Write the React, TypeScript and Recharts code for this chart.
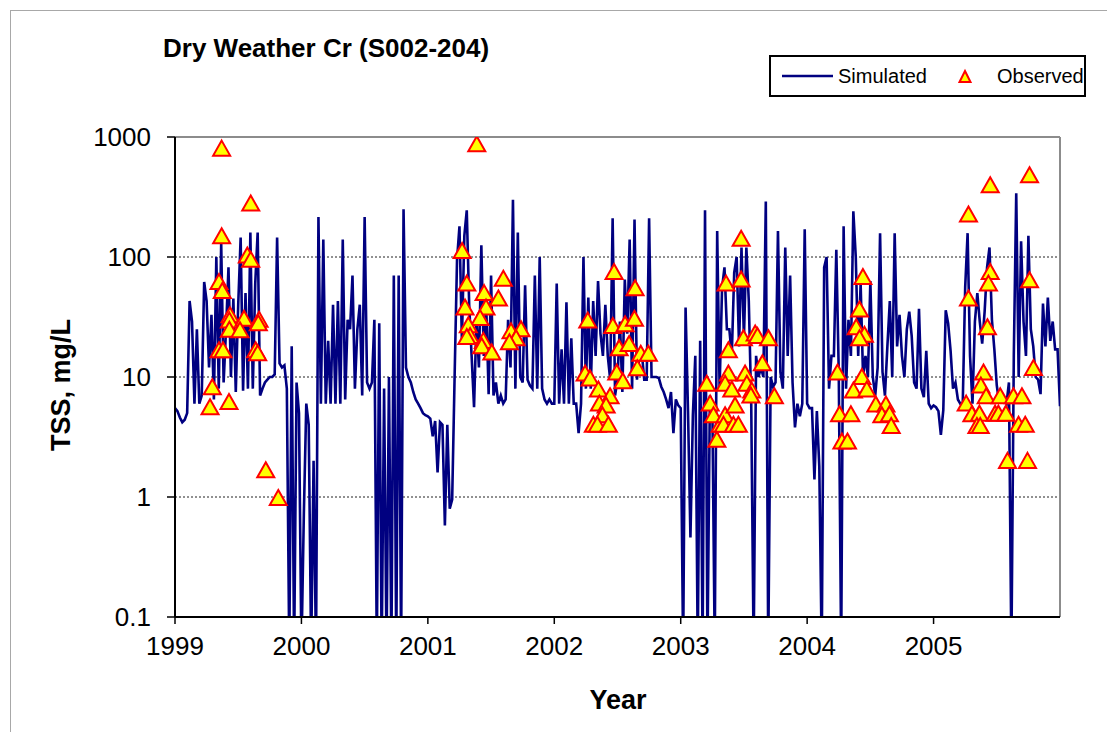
import {
  ComposedChart, Line, Scatter, XAxis, YAxis,
  CartesianGrid, ReferenceLine, Legend,
} from 'recharts'

const FONT = '"Liberation Sans", Arial, Helvetica, sans-serif'

const YEARS = [1999, 2000, 2001, 2002, 2003, 2004, 2005]
const X_TICKS = [1999, 2000, 2001, 2002, 2003, 2004, 2005]
const Y_TICKS = [0.1, 1, 10, 100, 1000]

// simulated TSS (mg/L), one reading per week; 0.05 = below the 0.1 floor
const sim1999 = [5.5, 5.2, 4.6, 4.2, 4.4, 5.0, 43, 29, 6, 25, 6, 7, 62, 43, 12, 33, 6.5, 100, 8, 130, 9, 25, 82, 10, 45, 7.5, 40, 145, 7.7, 50, 8, 160, 8, 60, 160, 7, 8, 9, 9.5, 10, 10, 10.5, 145, 13, 12, 12.5, 8, 0.05, 18, 0.05, 9, 5]
const sim2000 = [0.05, 0.73, 6, 4, 0.05, 2, 0.05, 215, 6, 140, 6, 20, 6, 40, 6, 43, 6, 140, 6.5, 30, 25, 70, 8, 25, 40, 7, 215, 9, 8, 9, 30, 0.05, 28, 0.05, 8, 0.05, 10, 0.05, 70, 0.05, 70, 0.05, 250, 12, 10, 9, 7.5, 6.5, 6, 5.5, 5, 4.8]
const sim2001 = [4.7, 4.5, 3.2, 4.3, 1.6, 4.2, 4, 0.58, 4, 0.8, 0.95, 10, 95, 180, 20, 150, 245, 40, 15, 5.6, 30, 12, 125, 15, 40, 7.2, 70, 7, 9, 6, 7, 6, 6.5, 30, 12, 300, 8, 160, 10, 9, 58, 9.5, 8.5, 8, 70, 8, 100, 8, 6.5, 6, 6.5, 6]
const sim2002 = [6, 60, 6, 17, 6, 42, 6, 21, 6, 6, 3.4, 6, 100, 8, 46, 8, 43, 15, 63, 23, 15, 40, 15, 9.5, 210, 7, 9.5, 29, 7.5, 65, 23, 140, 8, 205, 9.5, 15, 16, 9.5, 9.5, 210, 10, 10, 10, 9.8, 8.3, 7.5, 6.5, 5.5, 7.5, 3.4, 6.5, 5.8]
const sim2003 = [5.5, 0.05, 38, 5.2, 0.46, 4.8, 15, 0.05, 20, 0.05, 245, 0.05, 7, 6, 0.05, 165, 8, 55, 82, 25, 25, 15, 74, 100, 18, 120, 21, 120, 43, 6, 0.05, 15, 10, 12, 10, 290, 0.05, 10, 8.3, 9, 165, 11, 8, 120, 15, 70, 9, 3.8, 6, 4.7, 6, 170]
const sim2004 = [6, 5.5, 5.5, 1.4, 5.2, 1.8, 0.05, 82, 100, 8, 15, 15, 115, 11, 0.05, 180, 8, 30, 15, 240, 100, 15, 60, 10, 15, 10, 63, 10, 7, 12, 158, 11, 7, 18, 43, 10, 158, 18, 33, 15, 10, 25, 35, 22, 9, 8, 37, 8, 6.8, 16.5, 6, 5.5]
const sim2005 = [5.8, 5.6, 5.2, 3.3, 5.3, 36, 28, 16.5, 8, 9, 6.5, 6, 6, 56, 158, 15, 6, 29, 50, 29, 19, 35, 82, 120, 30, 17, 8.5, 6, 7, 6.5, 6, 9, 0.05, 15, 340, 10, 135, 29, 15, 150, 25, 18, 10, 9.5, 7.2, 41, 18, 46, 20, 29, 17, 17, 5.7]

// observed grab samples: decimal year / TSS mg/L
const obsYear = [
  1999.369, 1999.599, 1999.369, 1999.572, 1999.599, 1999.348, 1999.374, 1999.435, 1999.430, 1999.546,
  1999.665, 1999.430, 1999.514, 1999.659, 1999.348, 1999.380, 1999.638, 1999.654, 1999.295, 1999.277,
  1999.427, 1999.718, 1999.817,
  2001.387, 2001.271, 2001.308, 2001.294, 2001.445, 2001.597, 2001.558, 2001.460, 2001.413, 2001.320,
  2001.334, 2001.308, 2001.439, 2001.426, 2001.506, 2001.658, 2001.737, 2001.698, 2001.645,
  2002.473, 2002.639, 2002.265, 2002.463, 2002.560, 2002.634, 2002.513, 2002.592, 2002.684, 2002.744,
  2002.244, 2002.283, 2002.494, 2002.657, 2002.542, 2002.349, 2002.441, 2002.357, 2002.410, 2002.381,
  2002.309, 2002.341, 2002.428,
  2003.206, 2003.233, 2003.259, 2003.286, 2003.312, 2003.359, 2003.478, 2003.377, 2003.377, 2003.351,
  2003.404, 2003.351, 2003.430, 2003.338, 2003.417, 2003.478, 2003.496, 2003.589, 2003.607, 2003.694,
  2003.646, 2003.509, 2003.523, 2003.562, 2003.555, 2003.456, 2003.741,
  2004.441, 2004.414, 2004.388, 2004.453, 2004.414, 2004.240, 2004.433, 2004.366, 2004.472, 2004.256,
  2004.346, 2004.275, 2004.319, 2004.543, 2004.623, 2004.591, 2004.651, 2004.665,
  2005.759, 2005.448, 2005.276, 2005.448, 2005.434, 2005.759, 2005.276, 2005.426, 2005.790, 2005.395,
  2005.374, 2005.416, 2005.527, 2005.632, 2005.699, 2005.258, 2005.303, 2005.363, 2005.487, 2005.513,
  2005.572, 2005.343, 2005.369, 2005.672, 2005.725, 2005.585, 2005.743,
]
const obsTss = [
  800, 279, 149, 103, 95, 62, 52, 32.7, 29.5, 30.6,
  30, 24.8, 24.5, 28, 16.7, 16.7, 16.7, 15.8, 8.2, 5.6,
  6.2, 1.67, 0.98,
  869, 112, 60, 38, 50, 66, 45, 38, 31, 27,
  22, 21.5, 20, 18, 16, 24, 25, 21, 19.5,
  75, 55, 29.5, 26.6, 27.5, 30.6, 17.4, 18.8, 15.6, 15.6,
  10.7, 9.7, 10.9, 11.8, 9.2, 7.85, 6.9, 6.0, 5.8, 4.8,
  4.0, 4.0, 4.0,
  8.8, 6.0, 4.8, 3.0, 4.0, 60, 142, 16.7, 10.7, 8.8,
  7.85, 4.8, 5.8, 4.0, 4.0, 65, 21, 23, 22, 21,
  13, 10.7, 8.8, 7.7, 7.0, 4.0, 6.9,
  68, 36.5, 26, 22.5, 21, 10.9, 10, 7.7, 7.85, 4.9,
  4.9, 2.9, 2.9, 5.9, 5.9, 4.8, 4.9, 3.9,
  479, 396, 226, 75, 60, 64, 45, 26, 11.9, 10.9,
  8.5, 6.9, 6.9, 6.9, 6.9, 6.0, 4.9, 4.95, 4.95, 4.95,
  4.95, 3.9, 3.9, 4.0, 4.0, 2.0, 2.0,
]

const simByYear = [sim1999, sim2000, sim2001, sim2002, sim2003, sim2004, sim2005]
const simulated = simByYear.flatMap((vals, i) =>
  vals.map((v, w) => ({ t: YEARS[i] + w / 52, v })),
)
const observed = obsYear.map((t, i) => ({ t, v: obsTss[i] }))

const NAVY = '#000080'

function Triangle({ cx, cy }: any) {
  if (cx == null || cy == null) return null
  return (
    <path
      d={`M${cx},${cy - 8} L${cx + 8.5},${cy + 7} L${cx - 8.5},${cy + 7} Z`}
      fill="#ffff00"
      stroke="#ff0000"
      strokeWidth={2}
    />
  )
}

function LegendBox() {
  return (
    <svg width={318} height={43} style={{ display: 'block' }}>
      <rect x={1} y={1} width={315} height={40} fill="#fff" stroke="#000" strokeWidth={2} />
      <line x1={13} y1={21} x2={64} y2={21} stroke={NAVY} strokeWidth={2.5} />
      <text x={69} y={28} fontSize={20} fontFamily={FONT} fill="#000">Simulated</text>
      <path d="M196,16 L201.5,27 L190.5,27 Z" fill="#ffff00" stroke="#ff0000" strokeWidth={2} />
      <text x={228} y={28} fontSize={20} fontFamily={FONT} fill="#000">Observed</text>
    </svg>
  )
}

function YTitle() {
  return (
    <text x={70} y={385} transform="rotate(-90 70 385)" textAnchor="middle"
      fontSize={27} fontWeight="bold" fontFamily={FONT} fill="#000">
      TSS, mg/L
    </text>
  )
}

function XTitle() {
  return (
    <text x={618} y={709} textAnchor="middle"
      fontSize={27} fontWeight="bold" fontFamily={FONT} fill="#000">
      Year
    </text>
  )
}

const tickStyle = { fill: '#000', fontSize: 26, fontFamily: FONT }

export default function App() {
  return (
    <div style={{ position: 'absolute', left: 0, top: 0, width: 1107, height: 732, overflow: 'hidden', background: '#fff' }}>
      <div style={{
        position: 'absolute', left: 10, top: 10, width: 1097, height: 722,
        borderTop: '1px solid #a8a8a8', borderLeft: '1px solid #a8a8a8',
      }} />
      <svg width={1107} height={80} style={{ position: 'absolute', left: 0, top: 0 }}>
        <text x={163} y={57} fontSize={26} fontWeight="bold" fontFamily={FONT} fill="#000">
          Dry Weather Cr (S002-204)
        </text>
      </svg>
      <ComposedChart
        width={1107}
        height={732}
        margin={{ top: 137, right: 47, bottom: 55, left: 0 }}
      >
        <CartesianGrid horizontal vertical={false} stroke="#222" strokeDasharray="2 2" />
        <XAxis
          type="number"
          dataKey="t"
          domain={[1999, 2006]}
          ticks={X_TICKS}
          interval={0}
          allowDataOverflow
          height={60}
          tick={tickStyle}
          tickSize={7}
          tickMargin={13}
          axisLine={{ stroke: '#000', strokeWidth: 2 }}
          tickLine={{ stroke: '#000', strokeWidth: 1.5 }}
          label={<XTitle />}
        />
        <YAxis
          type="number"
          scale="log"
          domain={[0.1, 1000]}
          ticks={Y_TICKS}
          interval={0}
          allowDataOverflow
          width={175}
          tick={tickStyle}
          tickSize={8}
          tickMargin={16}
          axisLine={{ stroke: '#000', strokeWidth: 2 }}
          tickLine={{ stroke: '#000', strokeWidth: 1.5 }}
          label={<YTitle />}
        />
        <ReferenceLine y={1000} stroke="#8c8c8c" strokeWidth={2} />
        <ReferenceLine x={2006} stroke="#8c8c8c" strokeWidth={2} />
        <Line
          data={simulated}
          dataKey="v"
          name="Simulated"
          type="linear"
          stroke={NAVY}
          strokeWidth={2.6}
          dot={false}
          activeDot={false}
          isAnimationActive={false}
        />
        <Scatter
          data={observed}
          dataKey="v"
          name="Observed"
          shape={<Triangle />}
          isAnimationActive={false}
        />
        <Legend
          layout="horizontal"
          verticalAlign="middle"
          align="center"
          wrapperStyle={{ left: 769, top: 55, width: 318, height: 43 }}
          content={() => <LegendBox />}
        />
      </ComposedChart>
    </div>
  )
}
